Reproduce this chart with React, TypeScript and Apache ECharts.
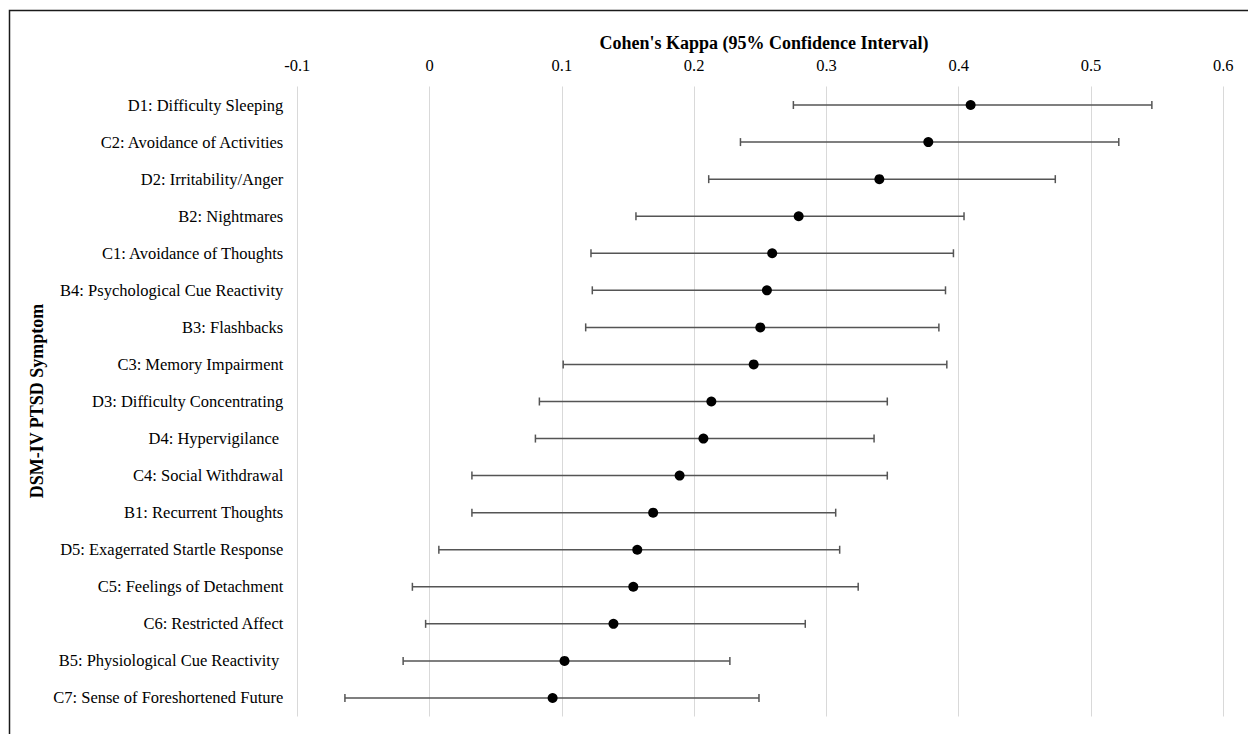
import React, { useEffect, useRef } from "react";
import * as echarts from "echarts";

const categories = [
  "D1: Difficulty Sleeping",
  "C2: Avoidance of Activities",
  "D2: Irritability/Anger",
  "B2: Nightmares",
  "C1: Avoidance of Thoughts",
  "B4: Psychological Cue Reactivity",
  "B3: Flashbacks",
  "C3: Memory Impairment",
  "D3: Difficulty Concentrating",
  "D4: Hypervigilance ",
  "C4: Social Withdrawal",
  "B1: Recurrent Thoughts",
  "D5: Exagerrated Startle Response",
  "C5: Feelings of Detachment",
  "C6: Restricted Affect",
  "B5: Physiological Cue Reactivity ",
  "C7: Sense of Foreshortened Future",
];

const kappa = [0.409, 0.377, 0.340, 0.279, 0.259, 0.255, 0.250, 0.245, 0.213, 0.207, 0.189, 0.169, 0.157, 0.154, 0.139, 0.102, 0.093];
const lower = [0.275, 0.235, 0.211, 0.156, 0.122, 0.123, 0.118, 0.101, 0.083, 0.080, 0.032, 0.032, 0.007, -0.013, -0.003, -0.020, -0.064];
const upper = [0.546, 0.521, 0.473, 0.404, 0.396, 0.390, 0.385, 0.391, 0.346, 0.336, 0.346, 0.307, 0.310, 0.324, 0.284, 0.227, 0.249];

const xMin = -0.1;
const xMax = 0.6;
const xStep = 0.1;

const xTitle = "Cohen's Kappa (95% Confidence Interval)";
const yTitle = "DSM-IV PTSD Symptom";

const FONT = "'Liberation Serif', 'DejaVu Serif', 'Times New Roman', serif";

export default function App() {
  const ref = useRef<HTMLDivElement>(null);

  useEffect(() => {
    if (!ref.current) return;
    const chart = echarts.init(ref.current, undefined, { renderer: "svg" });

    const errData = categories.map((c, i) => [lower[i], upper[i], c]);
    const pointData = categories.map((c, i) => [kappa[i], c]);

    chart.setOption({
      animation: false,
      backgroundColor: "#ffffff",
      grid: { left: 297.3, right: 24.7, top: 86.5, bottom: 17.5, containLabel: false },
      xAxis: {
        type: "value",
        position: "top",
        min: xMin,
        max: xMax,
        interval: xStep,
        axisLine: { show: false },
        axisTick: { show: false },
        splitLine: { show: true, lineStyle: { color: "#d9d9d9", width: 1 } },
        axisLabel: {
          margin: 13,
          fontFamily: FONT,
          fontSize: 16.5,
          color: "#000",
          formatter: (v: number) => String(Math.round(v * 10) / 10),
        },
      },
      yAxis: {
        type: "category",
        data: categories,
        inverse: true,
        axisLine: { show: false },
        axisTick: { show: false },
        splitLine: { show: false },
        axisLabel: {
          margin: 14,
          fontFamily: FONT,
          fontSize: 16.5,
          color: "#000",
        },
      },
      graphic: [
        {
          type: "rect",
          shape: { x: 9.5, y: 10.5, width: 1400, height: 900 },
          style: { fill: "none", stroke: "#1a1a1a", lineWidth: 1.5 },
          silent: true,
          z: -1,
        },
        {
          type: "text",
          x: 764,
          y: 43,
          style: {
            text: xTitle,
            font: `bold 18px ${FONT}`,
            fill: "#000",
            textAlign: "center",
            textVerticalAlign: "middle",
          },
        },
        {
          type: "text",
          x: 37,
          y: 401,
          rotation: Math.PI / 2,
          style: {
            text: yTitle,
            font: `bold 18px ${FONT}`,
            fill: "#000",
            textAlign: "center",
            textVerticalAlign: "middle",
          },
        },
      ],
      series: [
        {
          type: "custom",
          data: errData,
          encode: { x: [0, 1], y: 2 },
          z: 2,
          renderItem: (params: any, api: any) => {
            const cat = api.value(2);
            const lo = api.coord([api.value(0), cat]);
            const hi = api.coord([api.value(1), cat]);
            const h = 4;
            const st = { stroke: "#555555", lineWidth: 1.5 };
            return {
              type: "group",
              children: [
                { type: "line", shape: { x1: lo[0], y1: lo[1], x2: hi[0], y2: hi[1] }, style: st },
                { type: "line", shape: { x1: lo[0], y1: lo[1] - h, x2: lo[0], y2: lo[1] + h }, style: st },
                { type: "line", shape: { x1: hi[0], y1: hi[1] - h, x2: hi[0], y2: hi[1] + h }, style: st },
              ],
            };
          },
        },
        {
          type: "scatter",
          data: pointData,
          symbol: "circle",
          symbolSize: 10,
          z: 3,
          itemStyle: { color: "#000", opacity: 1 },
        },
      ],
    });

    return () => chart.dispose();
  }, []);

  return (
    <div
      ref={ref}
      style={{ position: "fixed", left: 0, top: 0, width: 1248, height: 734, background: "#fff" }}
    />
  );
}
